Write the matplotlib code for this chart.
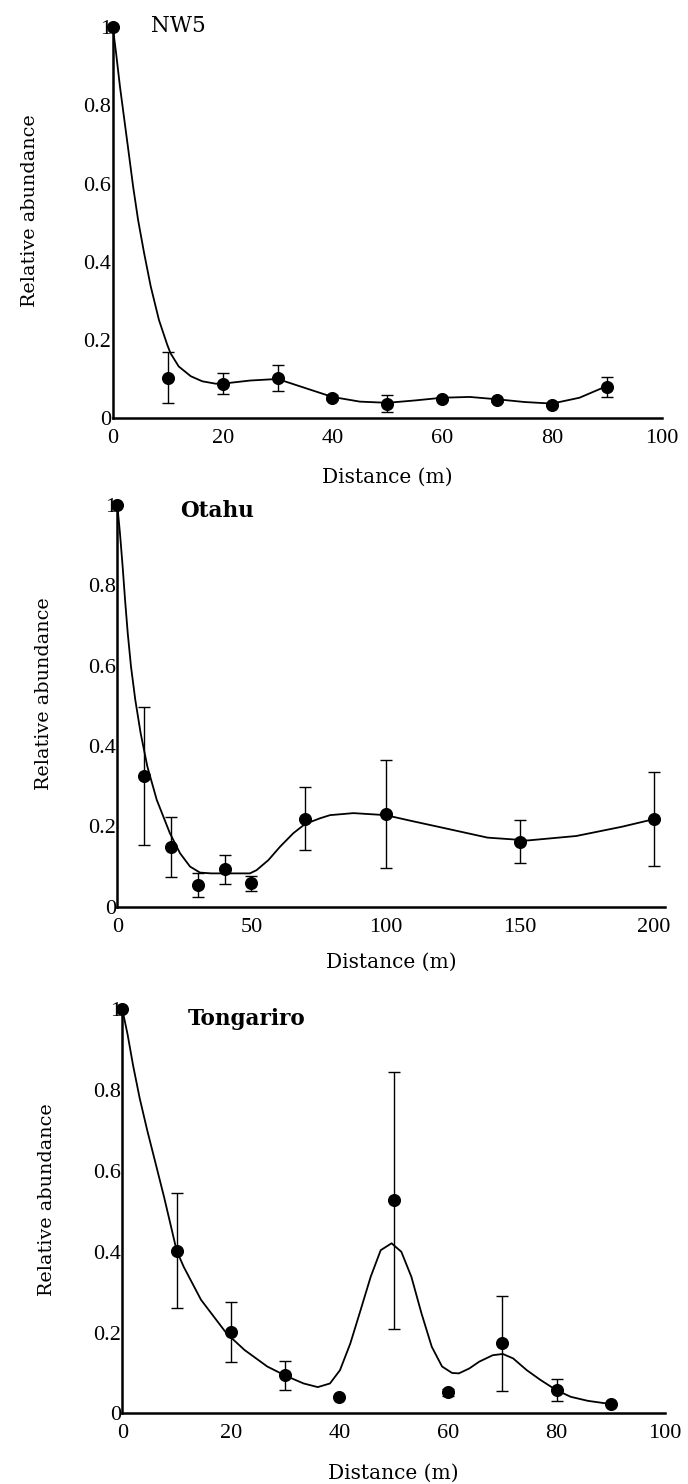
import matplotlib
matplotlib.use("Agg")
import matplotlib.pyplot as plt

# NW5 site
nw5_dist = [0, 10, 20, 30, 40, 50, 60, 70, 80, 90]
nw5_abund = [1.0, 0.103, 0.088, 0.103, 0.052, 0.037, 0.050, 0.046, 0.034, 0.080]
nw5_err = [0, 0.065, 0.027, 0.033, 0.006, 0.022, 0.004, 0.004, 0.004, 0.026]
nw5_curve_x = [0, 0.6, 1.3, 2.1, 2.9, 3.7, 4.6, 5.7, 6.9, 8.4, 9.9, 10.5, 12.0, 14.2, 16.3, 18.7,
               20, 25, 30, 35, 40, 45, 50, 55, 60, 65, 70, 75, 80, 85, 90]
nw5_curve_y = [1.0, 0.933, 0.848, 0.763, 0.678, 0.592, 0.507, 0.422, 0.337, 0.251, 0.188, 0.166, 0.132, 0.107, 0.094, 0.088,
               0.088, 0.096, 0.10, 0.077, 0.054, 0.042, 0.039, 0.045, 0.052, 0.054, 0.048, 0.041, 0.037, 0.052, 0.082]

# Otahu site
ot_dist = [0, 10, 20, 30, 40, 50, 70, 100, 150, 200]
ot_abund = [1.0, 0.325, 0.149, 0.054, 0.093, 0.058, 0.219, 0.231, 0.162, 0.218]
ot_err = [0, 0.171, 0.075, 0.029, 0.036, 0.018, 0.079, 0.134, 0.053, 0.117]
ot_curve_x = [0, 1.0, 2.0, 2.9, 3.9, 5.1, 6.7, 8.7, 11.2, 14.7, 19.6, 23.4, 27.1, 30.8, 35, 40, 45, 49.4,
              51.9, 56.3, 60.6, 65.6, 70, 75.5, 79.3, 88, 100, 110, 121, 138, 153, 171, 188, 200]
ot_curve_y = [1.0, 0.929, 0.846, 0.763, 0.68, 0.598, 0.515, 0.432, 0.349, 0.266, 0.183, 0.133, 0.10, 0.085, 0.083, 0.083, 0.083, 0.083,
              0.091, 0.116, 0.149, 0.183, 0.206, 0.22, 0.228, 0.233, 0.228, 0.213, 0.197, 0.172, 0.165, 0.176, 0.199, 0.218]

# Tongariro site
tg_dist = [0, 10, 20, 30, 40, 50, 60, 70, 80, 90]
tg_abund = [1.0, 0.403, 0.202, 0.094, 0.041, 0.527, 0.052, 0.173, 0.057, 0.024]
tg_err = [0, 0.143, 0.074, 0.036, 0, 0.317, 0.008, 0.118, 0.027, 0]
tg_curve_x = [0, 0.97, 2.0, 3.2, 4.6, 6.2, 7.7, 9.1, 10.0, 11.3, 14.5, 19.2, 22.5, 26.7, 30.1, 33.4, 36.0,
              38.25, 40.1, 42, 43.9, 45.75, 47.6, 49.6, 51.4, 53.25, 55.1, 57, 58.9, 60.75, 62, 63.9,
              65.75, 68.25, 70.1, 72, 74.5, 77, 79.9, 82.6, 85.75, 90]
tg_curve_y = [1.0, 0.938, 0.860, 0.780, 0.700, 0.615, 0.535, 0.455, 0.403, 0.363, 0.281, 0.198, 0.157, 0.116, 0.093, 0.074, 0.065,
              0.074, 0.107, 0.173, 0.256, 0.338, 0.404, 0.421, 0.40, 0.338, 0.248, 0.165, 0.116, 0.10, 0.099, 0.111,
              0.128, 0.144, 0.147, 0.136, 0.107, 0.083, 0.058, 0.041, 0.031, 0.023]

y_ticks = [0, 0.2, 0.4, 0.6, 0.8, 1]
y_tick_labels = ["0", "0.2", "0.4", "0.6", "0.8", "1"]

TICK_FONT = "Liberation Serif"
LABEL_FONT = "DejaVu Serif"

fig = plt.figure(figsize=(6.88, 14.84), dpi=100)


def draw_panel(rect, dist, abund, err, cx, cy, xmax, xticks, name, name_pos, name_bold,
               ylab_x, xlab_y):
    ax = fig.add_axes(rect)
    ax.plot(cx, cy, color="black", lw=1.3, clip_on=False, zorder=2,
            solid_joinstyle="round", solid_capstyle="round")
    ax.errorbar(dist, abund, yerr=err, fmt="o", color="black", ms=8.4, capsize=4.3,
                elinewidth=1.0, capthick=1.0, clip_on=False, zorder=3)
    ax.set_xlim(0, xmax)
    ax.set_ylim(0, 1)
    for s in ("top", "right"):
        ax.spines[s].set_visible(False)
    for s in ("left", "bottom"):
        ax.spines[s].set_linewidth(1.8)
    ax.set_xticks(xticks)
    ax.set_xticklabels([str(t) for t in xticks], fontfamily=TICK_FONT, fontsize=16)
    ax.set_yticks(y_ticks)
    ax.set_yticklabels(y_tick_labels, fontfamily=TICK_FONT, fontsize=16)
    ax.tick_params(axis="x", length=0, pad=8)
    ax.tick_params(axis="y", length=0, pad=1)
    ax.set_xlabel("Distance (m)", fontfamily=LABEL_FONT, fontsize=14.5)
    ax.xaxis.set_label_coords(0.5, xlab_y)
    ax.set_ylabel("Relative abundance", fontfamily=LABEL_FONT, fontsize=13.8)
    ax.yaxis.set_label_coords(ylab_x, 0.53)
    ax.text(name_pos[0], name_pos[1], name, fontfamily=LABEL_FONT, fontsize=15.5,
            fontweight="bold" if name_bold else "normal", ha="left", va="baseline")
    return ax


draw_panel([0.164, 0.7183, 0.798, 0.2633], nw5_dist, nw5_abund, nw5_err,
           nw5_curve_x, nw5_curve_y, 100, [0, 20, 40, 60, 80, 100],
           "NW5", (6.9, 0.988), False, -0.135, -0.128)
draw_panel([0.1705, 0.389, 0.7956, 0.2707], ot_dist, ot_abund, ot_err,
           ot_curve_x, ot_curve_y, 204, [0, 50, 100, 150, 200],
           "Otahu", (23.4, 0.971), True, -0.1175, -0.115)
draw_panel([0.1778, 0.0476, 0.789, 0.2722], tg_dist, tg_abund, tg_err,
           tg_curve_x, tg_curve_y, 100, [0, 20, 40, 60, 80, 100],
           "Tongariro", (12.0, 0.961), True, -0.122, -0.124)

fig.savefig("out.png", dpi=100)
